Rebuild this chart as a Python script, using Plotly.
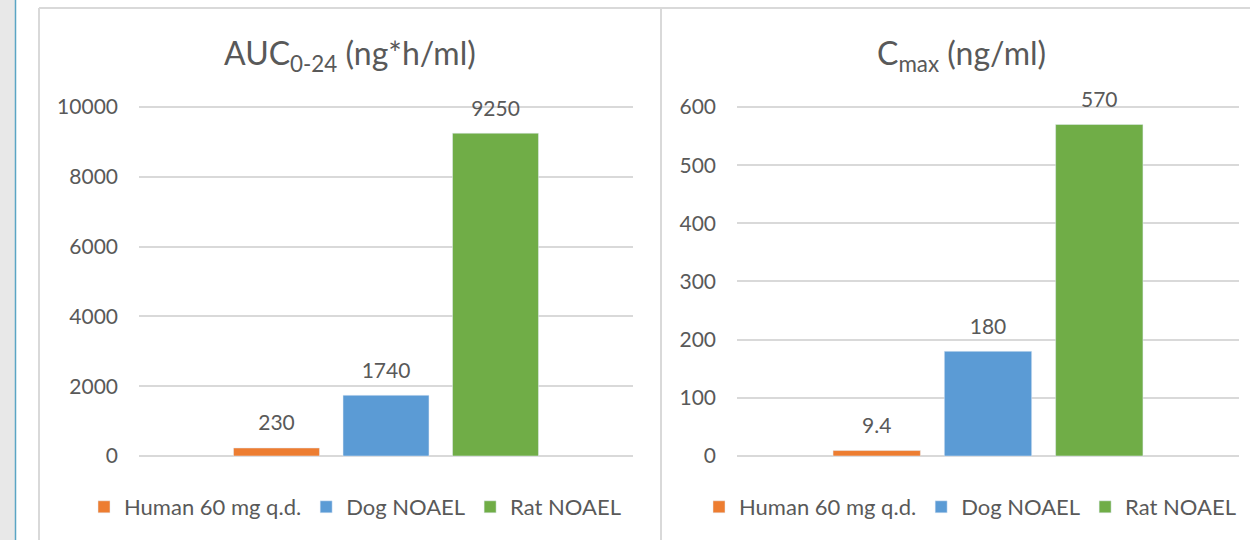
import plotly.graph_objects as go

series = ["Human 60 mg q.d.", "Dog NOAEL", "Rat NOAEL"]
colors = ["#ED7D31", "#5B9BD5", "#70AD47"]
auc_values = [230, 1740, 9250]
auc_labels = ["230", "1740", "9250"]
cmax_values = [9.4, 180, 570]
cmax_labels = ["9.4", "180", "570"]
auc_ticks = [0, 2000, 4000, 6000, 8000, 10000]
auc_ticktext = ["0", "2000", "4000", "6000", "8000", "10000"]
cmax_ticks = [0, 100, 200, 300, 400, 500, 600]
cmax_ticktext = ["0", "100", "200", "300", "400", "500", "600"]

FONT = "Lato"
TXT = "#595959"
GRID = "#D9D9D9"
W, H = 1250, 540

fig = go.Figure()
panels = [("x", "y", "legend", auc_values, auc_labels),
          ("x2", "y2", "legend2", cmax_values, cmax_labels)]
for xa, ya, lg, vals, labels in panels:
    for i, name in enumerate(series):
        fig.add_trace(go.Bar(
            x=[""], y=[vals[i]], name=name, marker_color=colors[i],
            xaxis=xa, yaxis=ya, legend=lg, offsetgroup=str(i),
        ))
    # data labels, grouped like the bars
    for i, name in enumerate(series):
        fig.add_trace(go.Scatter(
            x=[""], y=[vals[i]], text=[labels[i]], mode="markers+text",
            textposition="top center", marker=dict(size=18, opacity=0),
            textfont=dict(family=FONT, size=21, color=TXT), cliponaxis=False,
            xaxis=xa, yaxis=ya, offsetgroup=str(i), showlegend=False, hoverinfo="skip",
        ))

def px(x):
    return x / W

def py(y):
    return 1 - y / H

PAD = 0.006
ext = 349 * PAD
ydom = [py(456 + ext), py(107 - ext)]
axis_common = dict(showgrid=True, gridcolor=GRID, gridwidth=2, zeroline=False,
                   showline=False, ticks="", ticklabelstandoff=20, automargin=False,
                   tickfont=dict(family=FONT, size=21, color=TXT))

fig.update_layout(
    width=W, height=H, margin=dict(l=0, r=0, t=0, b=0, autoexpand=False),
    paper_bgcolor="white", plot_bgcolor="white",
    barmode="group", bargap=0.335, bargroupgap=0.215,
    scattermode="group", scattergap=0.335,
    xaxis=dict(domain=[px(139), px(633)], showticklabels=False, showgrid=False,
               zeroline=False, showline=False, automargin=False),
    xaxis2=dict(domain=[px(737), px(1239)], showticklabels=False, showgrid=False,
                zeroline=False, showline=False, anchor="y2", automargin=False),
    yaxis=dict(domain=ydom, range=[-10000 * PAD, 10000 * (1 + PAD)], tickvals=auc_ticks,
               ticktext=auc_ticktext, anchor="x", **axis_common),
    yaxis2=dict(domain=ydom, range=[-600 * PAD, 600 * (1 + PAD)], tickvals=cmax_ticks,
                ticktext=cmax_ticktext, anchor="x2", **axis_common),
    legend=dict(orientation="h", x=px(355), xanchor="center", y=py(507), yanchor="middle",
                font=dict(family=FONT, size=22, color=TXT), itemwidth=30,
                bgcolor="rgba(0,0,0,0)", traceorder="normal"),
    legend2=dict(orientation="h", x=px(970), xanchor="center", y=py(507), yanchor="middle",
                 font=dict(family=FONT, size=22, color=TXT), itemwidth=30,
                 bgcolor="rgba(0,0,0,0)", traceorder="normal"),
    showlegend=True,
    annotations=[
        dict(text="AUC<sub>0-24</sub> (ng*h/ml)", x=px(350), y=py(55), xref="paper", yref="paper",
             showarrow=False, xanchor="center", yanchor="middle",
             font=dict(family=FONT, size=32, color=TXT)),
        dict(text="C<sub>max</sub> (ng/ml)", x=px(962), y=py(55), xref="paper", yref="paper",
             showarrow=False, xanchor="center", yanchor="middle",
             font=dict(family=FONT, size=32, color=TXT)),
    ],
    shapes=[
        dict(type="rect", xref="paper", yref="paper", x0=0, x1=px(15), y0=0, y1=1,
             fillcolor="#E8E8E8", line=dict(width=0), layer="below"),
        dict(type="line", xref="paper", yref="paper", x0=px(15.5), x1=px(15.5), y0=0, y1=1,
             line=dict(color="#5AA5C4", width=1.5)),
        dict(type="line", xref="paper", yref="paper", x0=px(39), x1=px(39), y0=0, y1=py(8),
             line=dict(color=GRID, width=2)),
        dict(type="line", xref="paper", yref="paper", x0=px(39), x1=px(1250), y0=py(8), y1=py(8),
             line=dict(color=GRID, width=2)),
        dict(type="line", xref="paper", yref="paper", x0=px(661), x1=px(661), y0=0, y1=py(8),
             line=dict(color=GRID, width=2)),
    ],
)

fig.write_html("out.html", config={"displayModeBar": False},
               post_script="document.body.style.margin='0';document.body.style.overflow='hidden';")
